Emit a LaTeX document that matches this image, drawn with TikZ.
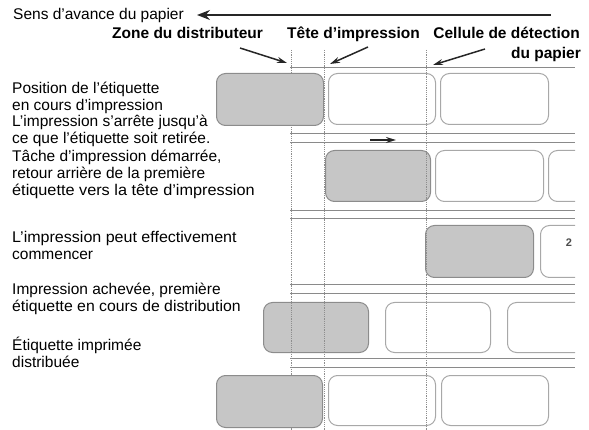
\documentclass[tikz,border=0pt]{standalone}
\usepackage{graphicx}
\usepackage{fontspec}
\setmainfont{Liberation Sans}
\usetikzlibrary{arrows.meta}
\definecolor{lblgray}{HTML}{C6C6C6}
\definecolor{lbledge}{HTML}{8C8C8C}
\definecolor{whiteedge}{HTML}{A8A8A8}
\definecolor{tapeline}{HTML}{8A8A8A}
\definecolor{guide}{HTML}{8E8E8E}
\begin{document}
\begin{tikzpicture}[x=1pt,y=-1pt,
  txt/.style={anchor=base west, inner sep=0pt, font=\fontsize{15.5}{17}\selectfont},
  hdr/.style={inner sep=0pt, font=\fontsize{15.5}{17}\selectfont\bfseries},
  grylbl/.style={draw=lbledge, fill=lblgray, rounded corners=9pt, line width=1pt, anchor=north west, inner sep=0pt},
  whtlbl/.style={draw=whiteedge, rounded corners=9pt, line width=1pt, anchor=north west, inner sep=0pt},
  tape/.style={draw=tapeline, line width=0.9pt},
  guideline/.style={draw=guide, line width=0.8pt, dash pattern=on 1.3pt off 0.9pt},
  pointer/.style={-{Stealth[length=10pt,width=6pt]}, line width=1.5pt, black!85},
  feed/.style={-{Stealth[length=13pt,width=10pt]}, line width=1.6pt, black!85},
]
\useasboundingbox (0,0) rectangle (589,430);

% top header
\node[txt] (sens) at (13,20) {Sens d’avance du papier};
\coordinate (feedstart) at (551,15);
\coordinate (feedend) at (197,15);
\draw[feed] (feedstart) -- (feedend);

\node[hdr, anchor=base west] (zone) at (112,39) {Zone du distributeur};
\node[hdr, anchor=base west] (tete) at (287,39) {Tête d’impression};
\node[hdr, anchor=base east] (cell) at (580,39) {Cellule de détection};
\node[hdr, anchor=base east] (cell2) at (581,58.5) {du papier};

% left texts
\node[txt] (a1) at (12,93.5) {Position de l’étiquette};
\node[txt] (a2) at (12,110.5) {en cours d’impression};
\node[txt] (a3) at (12,127) {L’impression s’arrête jusqu'à};
\node[txt] (a4) at (12,143.5) {ce que l’étiquette soit retirée.};
\node[txt] (b1) at (12,162) {Tâche d’impression démarrée,};
\node[txt] (b2) at (12,178.5) {retour arrière de la première};
\node[txt] (b3) at (12,196) {\scalebox{1.05}[1]{étiquette vers la tête d’impression}};
\node[txt] (c1) at (12,243) {\scalebox{1.035}[1]{L’impression peut effectivement}};
\node[txt] (c2) at (12,260) {commencer};
\node[txt] (d1) at (12,295) {Impression achevée, première};
\node[txt] (d2) at (12,312) {\scalebox{1.02}[1]{étiquette en cours de distribution}};
\node[txt] (e1) at (12,350) {Étiquette imprimée};
\node[txt] (e2) at (12,367) {distribuée};

\begin{scope}
\clip (0,0) rectangle (575,430);
% tape lines
\draw[tape] (290,67) -- (575,67);
\draw[tape] (290,133) -- (575,133);
\draw[tape] (290,142) -- (575,142);
\draw[tape] (290,210) -- (575,210);
\draw[tape] (290,218) -- (575,218);
\draw[tape] (290,284) -- (575,284);
\draw[tape] (290,293) -- (575,293);
\draw[tape] (290,358) -- (575,358);
\draw[tape] (290,367) -- (575,367);

% gray labels under the guides (rows 2-4)
\node[grylbl, minimum width=105pt, minimum height=51pt] (g2) at (325,150) {};
\node[grylbl, minimum width=108pt, minimum height=52pt] (g3) at (425,225) {};
\node[grylbl, minimum width=105pt, minimum height=50pt] (g4) at (263,302) {};

% guide lines
\draw[guideline] (291,50) -- (291,430);
\draw[guideline] (324,50) -- (324,430);
\draw[guideline] (426,50) -- (426,430);

% gray labels over the guides (rows 1 and 5)
\node[grylbl, minimum width=107pt, minimum height=52pt] (g1) at (216,73) {};
\node[grylbl, minimum width=106pt, minimum height=52pt] (g5) at (216,375) {};

% white labels
\node[whtlbl, minimum width=107pt, minimum height=51pt] (w11) at (328,73) {};
\node[whtlbl, minimum width=108pt, minimum height=51pt] (w12) at (440,73) {};
\node[whtlbl, minimum width=108pt, minimum height=51pt] (w21) at (435,150) {};
\node[whtlbl, minimum width=108pt, minimum height=51pt] (w22) at (548,150) {};
\node[whtlbl, minimum width=108pt, minimum height=52pt] (w31) at (540,225) {};
\node[inner sep=0pt, font=\fontsize{11}{12}\selectfont\bfseries, text=black!70] (two) at (569,243) {2};
\node[whtlbl, minimum width=105pt, minimum height=50pt] (w41) at (385,302) {};
\node[whtlbl, minimum width=108pt, minimum height=50pt] (w42) at (507,302) {};
\node[whtlbl, minimum width=107pt, minimum height=50pt] (w51) at (328,375) {};
\node[whtlbl, minimum width=107pt, minimum height=50pt] (w52) at (441,375) {};
\end{scope}

% pointers
\coordinate (zonetail) at (240,48);
\coordinate (zonehead) at (287,63);
\coordinate (tetetail) at (368,47);
\coordinate (tetehead) at (330,64);
\coordinate (celltail) at (485,49);
\coordinate (cellhead) at (433,65);
\draw[pointer] (zonetail) -- (zonehead);
\draw[pointer] (tetetail) -- (tetehead);
\draw[pointer] (celltail) -- (cellhead);

% backfeed arrow
\coordinate (backtail) at (370,140);
\coordinate (backhead) at (396,140);
\draw[pointer] (backtail) -- (backhead);
\end{tikzpicture}
\end{document}
